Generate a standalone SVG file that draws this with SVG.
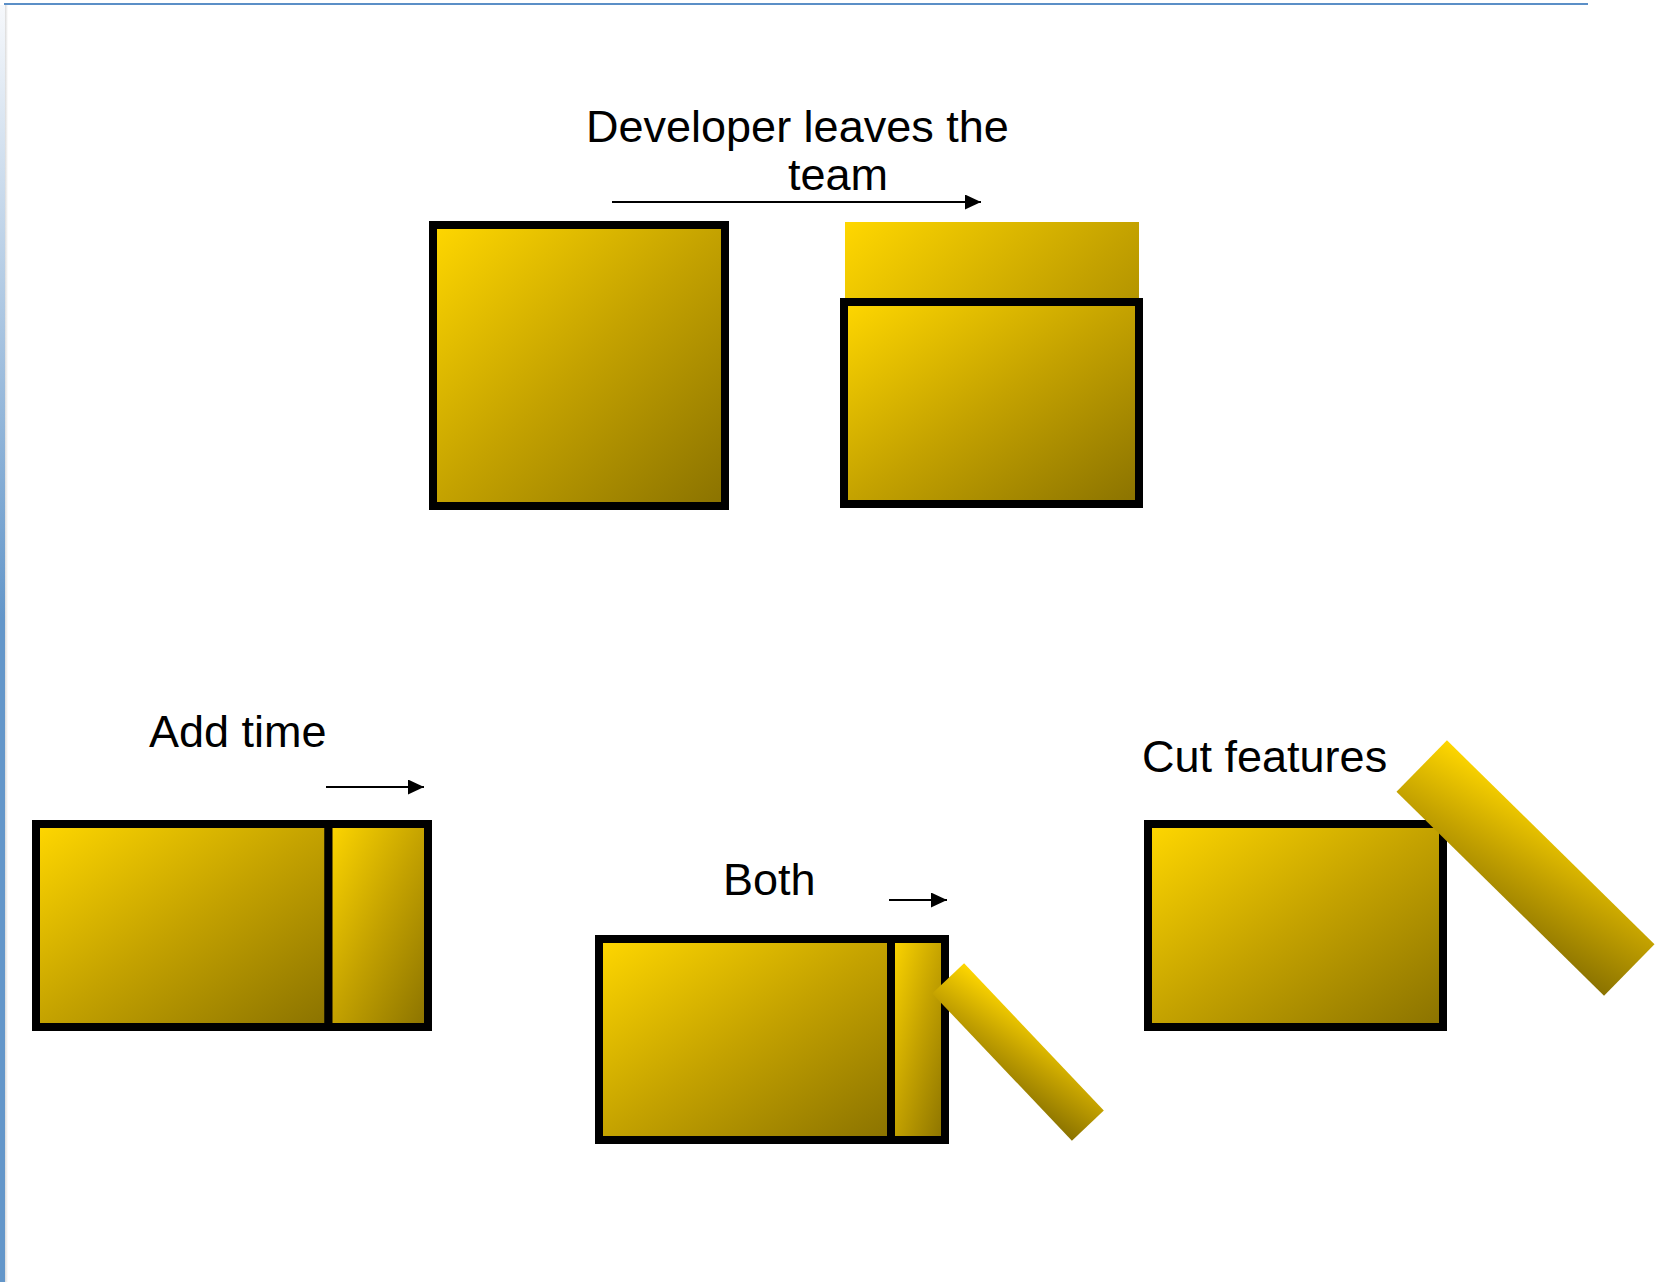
<svg xmlns="http://www.w3.org/2000/svg" width="1664" height="1282" viewBox="0 0 1664 1282">
  <defs>
    <linearGradient id="gold" x1="0" y1="0" x2="1" y2="1">
      <stop offset="0" stop-color="#FFD700"/>
      <stop offset="0.5" stop-color="#C4A200"/>
      <stop offset="1" stop-color="#8A7200"/>
    </linearGradient>
    <linearGradient id="sidebar" x1="0" y1="0" x2="0" y2="1">
      <stop offset="0" stop-color="#F6F8FB"/>
      <stop offset="0.48" stop-color="#6396C9"/>
      <stop offset="1" stop-color="#6396C9"/>
    </linearGradient>
    <linearGradient id="sideshadow" x1="0" y1="0" x2="1" y2="0">
      <stop offset="0" stop-color="#DADADA"/>
      <stop offset="1" stop-color="#FFFFFF"/>
    </linearGradient>
    <marker id="arrowhead" markerUnits="userSpaceOnUse" markerWidth="16" markerHeight="15" refX="16" refY="7.5" orient="auto">
      <path d="M0,0 L16,7.5 L0,15 z" fill="#000"/>
    </marker>
  </defs>
  <style>
    .box { fill: url(#gold); stroke: #000; stroke-width: 8; }
    .piece { fill: url(#gold); }
    .label { font-family: "Liberation Sans", Arial, sans-serif; font-size: 45px; fill: #000; }
    .conn { stroke: #000; stroke-width: 2; fill: none; marker-end: url(#arrowhead); }
  </style>

  <!-- page frame -->
  <rect x="0" y="0" width="1664" height="1282" fill="#FFFFFF"/>
  <rect x="5" y="5" width="3" height="1277" fill="url(#sideshadow)"/>
  <rect x="0" y="5" width="5" height="1277" fill="url(#sidebar)"/>
  <rect x="4" y="3" width="1584" height="2" fill="#5B8FC7"/>

  <!-- team before -->
  <g id="team-before">
    <rect class="box" x="433" y="225" width="292" height="281"/>
  </g>

  <!-- team after a developer leaves -->
  <g id="team-after">
    <rect class="piece" x="845" y="222" width="294" height="282"/>
    <rect class="box" x="844" y="302" width="295" height="202"/>
  </g>

  <g id="label-leaves">
    <text class="label" x="586" y="142">Developer leaves the</text>
    <text class="label" x="788" y="190">team</text>
  </g>

  <!-- option: add time -->
  <g id="add-time">
    <text class="label" x="149" y="747">Add time</text>
    <rect class="box" x="36" y="824" width="292.5" height="203"/>
    <rect class="box" x="328.5" y="824" width="99.5" height="203"/>
  </g>

  <!-- option: both -->
  <g id="both">
    <text class="label" x="723" y="895">Both</text>
    <rect class="box" x="599" y="939" width="292" height="201"/>
    <rect class="box" x="891" y="939" width="54" height="201"/>
    <rect class="piece" x="-101.5" y="-22" width="203" height="44" transform="translate(1018,1052) rotate(46.5)"/>
  </g>

  <!-- option: cut features -->
  <g id="cut-features">
    <text class="label" x="1142" y="772">Cut features</text>
    <rect class="box" x="1148" y="824" width="295" height="203"/>
    <rect class="piece" x="-145.5" y="-36" width="291" height="72" transform="translate(1525.5,868) rotate(44.5)"/>
  </g>

  <!-- arrows -->
  <g id="connectors">
    <line class="conn" x1="612" y1="202" x2="981" y2="202"/>
    <line class="conn" x1="326" y1="787" x2="424" y2="787"/>
    <line class="conn" x1="889" y1="900" x2="947" y2="900"/>
  </g>
</svg>
